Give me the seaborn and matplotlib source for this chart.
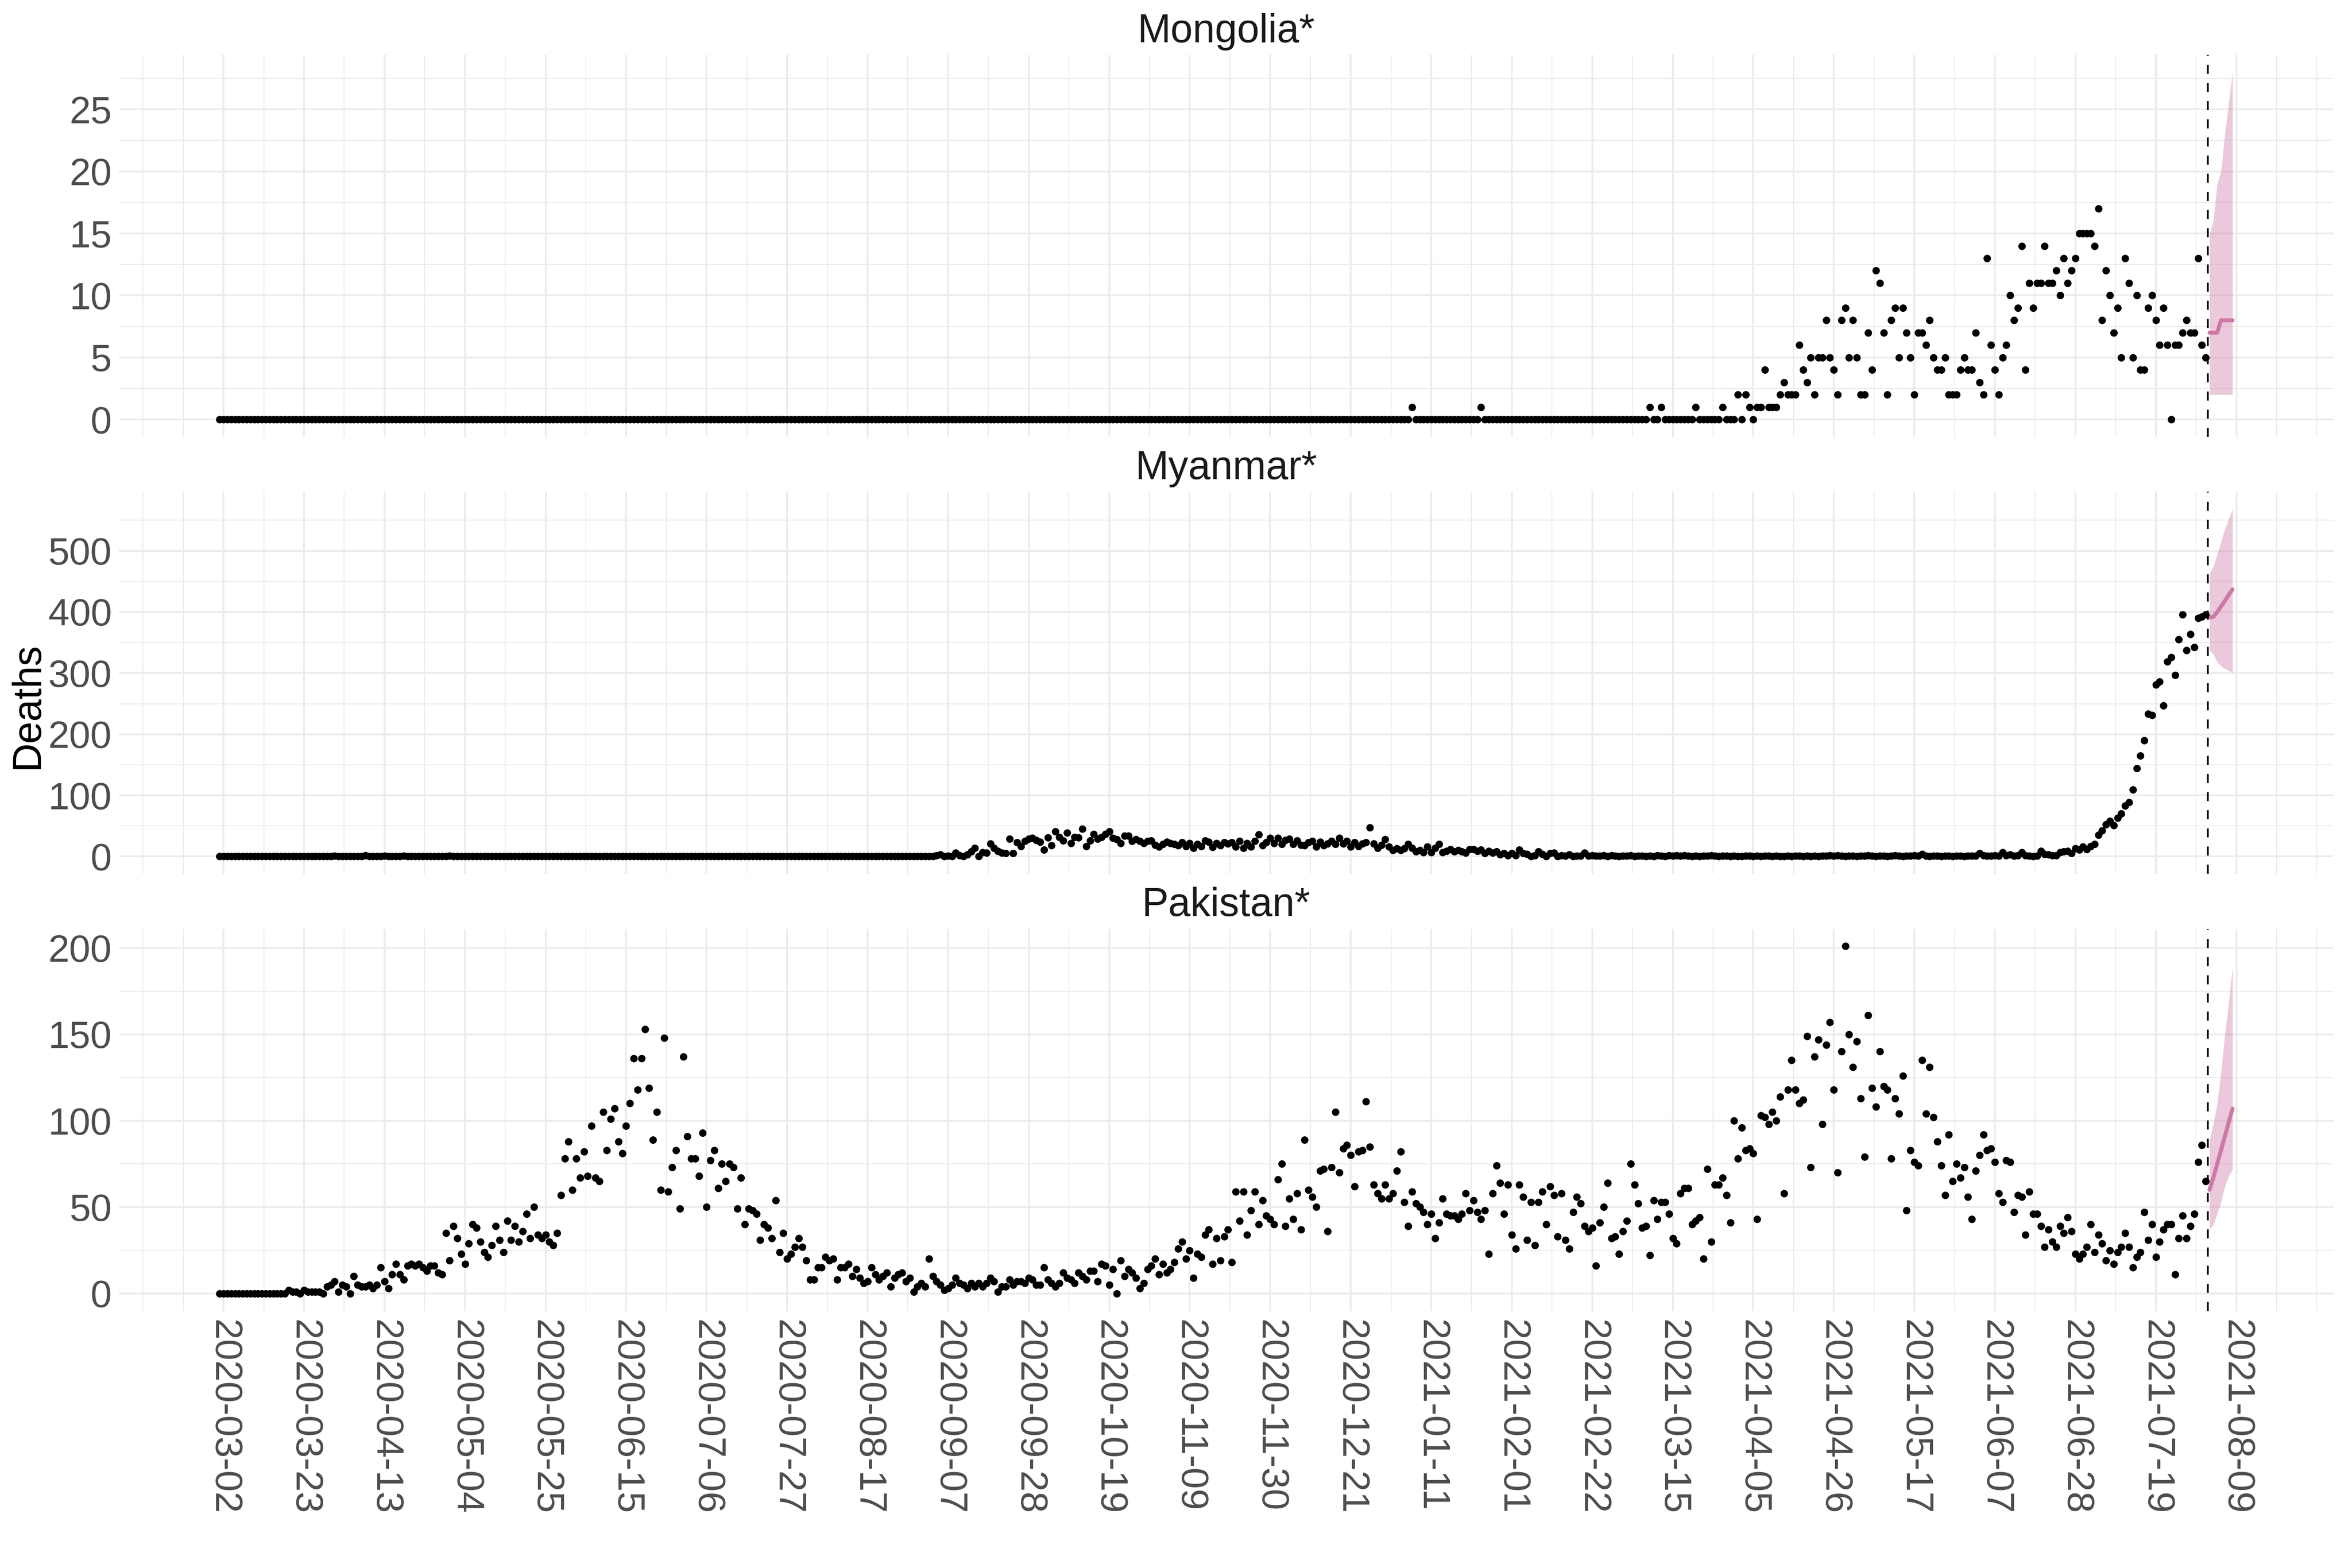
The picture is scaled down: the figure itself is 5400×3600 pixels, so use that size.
import numpy as np
import pandas as pd
import matplotlib
matplotlib.use("Agg")
import matplotlib.pyplot as plt
from matplotlib.ticker import MultipleLocator
import seaborn as sns

# observed daily deaths, 2020-03-01 .. 2021-08-01
first_day = "2020-03-01"
last_day = "2021-08-01"

mongolia = [
    0, 0, 0, 0, 0, 0, 0, 0, 0, 0, 0, 0, 0, 0, 0, 0, 0, 0, 0, 0, 0, 0, 0, 0, 0, 0, 0, 0, 0, 0,
    0, 0, 0, 0, 0, 0, 0, 0, 0, 0, 0, 0, 0, 0, 0, 0, 0, 0, 0, 0, 0, 0, 0, 0, 0, 0, 0, 0, 0, 0,
    0, 0, 0, 0, 0, 0, 0, 0, 0, 0, 0, 0, 0, 0, 0, 0, 0, 0, 0, 0, 0, 0, 0, 0, 0, 0, 0, 0, 0, 0,
    0, 0, 0, 0, 0, 0, 0, 0, 0, 0, 0, 0, 0, 0, 0, 0, 0, 0, 0, 0, 0, 0, 0, 0, 0, 0, 0, 0, 0, 0,
    0, 0, 0, 0, 0, 0, 0, 0, 0, 0, 0, 0, 0, 0, 0, 0, 0, 0, 0, 0, 0, 0, 0, 0, 0, 0, 0, 0, 0, 0,
    0, 0, 0, 0, 0, 0, 0, 0, 0, 0, 0, 0, 0, 0, 0, 0, 0, 0, 0, 0, 0, 0, 0, 0, 0, 0, 0, 0, 0, 0,
    0, 0, 0, 0, 0, 0, 0, 0, 0, 0, 0, 0, 0, 0, 0, 0, 0, 0, 0, 0, 0, 0, 0, 0, 0, 0, 0, 0, 0, 0,
    0, 0, 0, 0, 0, 0, 0, 0, 0, 0, 0, 0, 0, 0, 0, 0, 0, 0, 0, 0, 0, 0, 0, 0, 0, 0, 0, 0, 0, 0,
    0, 0, 0, 0, 0, 0, 0, 0, 0, 0, 0, 0, 0, 0, 0, 0, 0, 0, 0, 0, 0, 0, 0, 0, 0, 0, 0, 0, 0, 0,
    0, 0, 0, 0, 0, 0, 0, 0, 0, 0, 0, 0, 0, 0, 0, 0, 0, 0, 0, 0, 0, 0, 0, 0, 0, 0, 0, 0, 0, 0,
    0, 0, 0, 0, 0, 0, 0, 0, 0, 0, 0,
    1,
    0, 0, 0, 0, 0, 0, 0, 0, 0, 0, 0, 0, 0, 0, 0, 0, 0,
    1,
    0, 0, 0, 0, 0, 0, 0, 0, 0, 0, 0, 0, 0, 0, 0, 0, 0, 0, 0, 0, 0, 0, 0, 0, 0, 0, 0, 0, 0, 0,
    0, 0, 0, 0, 0, 0, 0, 0, 0, 0, 0, 0, 0,
    1, 0, 0, 1, 0, 0, 0, 0, 0, 0,
    0, 0, 1, 0, 0, 0, 0, 0, 0, 1,
    0, 0, 0, 2, 0, 2, 1, 0, 1, 1,
    4, 1, 1, 1, 2, 3, 2, 2, 2, 6,
    4, 3, 5, 2, 5, 5, 8, 5, 4, 2,
    8, 9, 5, 8, 5, 2, 2, 7, 4, 12,
    11, 7, 2, 8, 9, 5, 9, 7, 5, 2,
    7, 7, 6, 8, 5, 4, 4, 5, 2, 2,
    2, 4, 5, 4, 4, 7, 3, 2, 13, 6,
    4, 2, 5, 6, 10, 8, 9, 14, 4, 11,
    9, 11, 11, 14, 11, 11, 12, 10, 13, 11,
    12, 13, 15, 15, 15, 15, 14, 17, 8, 12,
    10, 7, 9, 5, 13, 11, 5, 10, 4, 4,
    9, 10, 8, 6, 9, 6, 0, 6, 6, 7,
    8, 7, 7, 13, 6, 5,
]

myanmar = [
    0, 0, 0, 0, 0, 0, 0, 0, 0, 0,
    0, 0, 0, 0, 0, 0, 0, 0, 0, 0,
    0, 0, 0, 0, 0, 0, 0, 0, 0, 0,
    1, 0, 0, 0, 0, 0, 0, 0, 2, 0,
    0, 0, 0, 1, 0, 0, 0, 0, 1, 0,
    0, 0, 0, 0, 0, 0, 0, 0, 0, 0,
    1, 0, 0, 0, 0, 0, 0, 0, 0, 0,
    0, 0, 0, 0, 0, 0, 0, 0, 0, 0, 0, 0, 0, 0, 0, 0, 0, 0, 0, 0,
    0, 0, 0, 0, 0, 0, 0, 0, 0, 0, 0, 0, 0, 0, 0, 0, 0, 0, 0, 0,
    0, 0, 0, 0, 0, 0, 0, 0, 0, 0, 0, 0, 0, 0, 0, 0, 0, 0, 0, 0,
    0, 0, 0, 0, 0, 0, 0, 0, 0, 0, 0, 0, 0, 0, 0, 0, 0, 0, 0, 0,
    0, 0, 0, 0, 0, 0, 0, 0, 0, 0, 0, 0, 0, 0, 0, 0, 0, 0, 0, 0,
    0, 0, 0, 0, 0, 0, 0, 0, 0, 0,
    0, 0, 0, 0, 0, 0, 0,
    2, 3, 0, 1, 0, 6, 2, 0, 3, 8,
    14, 0, 7, 6, 21, 14, 9, 6, 5, 29,
    5, 23, 17, 25, 29, 30, 27, 24, 11, 31,
    18, 41, 32, 26, 39, 22, 32, 31, 45, 17,
    26, 37, 29, 32, 37, 41, 30, 28, 22, 34,
    34, 25, 28, 25, 22, 25, 26, 19, 16, 20,
    24, 22, 20, 18, 23, 17, 22, 14, 20, 17,
    26, 24, 15, 22, 18, 23, 21, 23, 16, 25,
    14, 22, 16, 25, 36, 18, 23, 30, 22, 30,
    20, 27, 29, 20, 26, 19, 18, 23, 25, 16,
    24, 18, 21, 25, 20, 30, 21, 25, 16, 23,
    17, 21, 23, 47, 21, 14, 19, 28, 16, 10,
    13, 10, 13, 20, 14, 8, 10, 7, 16, 7,
    14, 20, 7, 9, 12, 8, 10, 8, 6, 12,
    12, 9, 11, 5, 9, 6, 8, 3, 5, 2,
    5, 2, 11, 5,
    4, 0, 2, 8, 4, 0, 5, 6, 0, 2,
    1, 3, 0, 1, 1, 6, 1, 2, 1, 1,
    2, 0, 2, 1, 0, 1, 1, 2, 0, 1,
    1, 0, 1, 0, 2, 1, 0, 2, 1, 2,
    1, 2, 1, 0, 1, 0, 1, 1, 2, 1,
    0, 1, 1, 0, 1, 0, 0, 1, 1, 0,
    1, 0, 1, 1, 0, 1, 0, 0, 1, 0,
    1, 1, 0, 1, 0, 1, 0, 1, 1, 2,
    1, 2, 1, 0, 1, 1, 0, 1, 1, 2,
    1, 0, 1, 1, 0, 1, 2, 1, 0, 1,
    1, 2, 1, 4, 1, 0, 1, 1, 0, 1,
    1, 0, 1, 1, 0, 1, 1, 1, 5, 2,
    1, 1, 2, 1, 7, 2, 3, 1, 2, 7,
    2, 1, 0, 1,
    9, 4, 3, 2, 2, 7, 8, 9, 5, 13,
    11, 16, 12, 17, 20, 35, 42, 52, 58, 51,
    63, 70, 83, 89, 109, 144, 165, 190, 233, 231,
    281, 286, 247, 319, 326, 297, 355, 396, 337, 364,
    342, 390, 392, 396,
]

pakistan = [
    0, 0, 0, 0, 0, 0, 0, 0, 0, 0,
    0, 0, 0, 0, 0, 0, 0, 0, 2, 1,
    1, 0, 2, 1, 1, 1, 1, 0, 4, 5,
    7, 1, 5, 4, 0, 10, 5, 4, 4, 5,
    3, 5, 15, 7, 3, 11, 17, 11, 8, 16,
    17, 16, 17, 15, 13, 16, 16, 12, 11, 35,
    19, 39, 32, 23, 17, 29, 40, 38, 30, 24,
    21, 28, 39, 31, 24, 42, 31, 39, 30, 36,
    46, 32, 50, 34, 32, 34, 30, 28, 35, 57,
    78, 88, 60, 78, 67, 82, 68, 97, 67, 65,
    105, 83, 101, 107, 88, 81, 97, 110, 136, 118,
    136, 153, 119, 89, 105, 60, 148, 59, 73, 83,
    49, 137, 91, 78, 78, 68, 93, 50, 77, 83,
    61, 75, 65, 75, 73, 49, 67, 40, 49, 48,
    46, 31, 40, 38, 32, 54, 24, 35, 20, 23,
    27, 32, 27, 19, 8, 8, 15, 15, 21, 19,
    20, 8, 15, 15, 17, 10, 14, 9, 6, 7,
    15, 11, 8, 10, 12, 4, 9, 11, 12, 7,
    9, 1, 4, 6, 4, 20, 10, 7, 5, 2,
    3, 5, 9, 6, 5, 3, 6, 4, 6, 4,
    6, 9, 7, 1, 4, 4, 8, 5, 7, 7,
    6, 9, 8, 5, 5, 15, 8, 6, 4, 6,
    12, 9, 8, 6, 12, 10, 8, 13, 13, 7,
    17, 16, 5, 14, 0, 19, 10, 14, 12, 9,
    3, 6, 14, 16, 20, 11, 17, 12, 14, 18,
    26, 30, 20, 25, 9, 23, 21, 34, 37, 17,
    32, 19, 33, 37, 18, 59, 42, 59, 34, 48,
    59, 40, 54, 45, 43, 40, 66, 75, 39, 55,
    43, 58, 37, 89, 60, 56, 50, 71, 72, 36,
    73, 105, 70, 84, 86, 80, 62, 82, 83, 111,
    85, 63, 58, 55, 63, 55, 58, 71, 82, 53,
    39, 59, 52, 50, 47, 40, 46, 32, 41, 55,
    46, 45, 45, 43, 46, 58, 48, 54, 47, 43,
    48, 23, 58, 74, 64, 46, 63, 34, 26, 63,
    56, 31, 53, 28, 53, 59, 40, 62, 57, 33,
    58, 31, 26, 47, 56, 52, 39, 36, 38, 16,
    41, 50, 64, 32, 33, 23, 36, 42, 75, 63,
    52, 38, 39, 22, 54, 43, 53, 53, 46, 32,
    29, 58, 61, 61, 40, 42, 44, 20, 72, 30,
    63, 63, 67, 57, 41, 100, 78, 96, 83, 84,
    81, 43, 103, 102, 98, 105, 100, 114, 58, 118,
    135, 118, 110, 112, 149, 73, 137, 147, 98, 144,
    157, 118, 70, 140, 201, 150, 131, 146, 113, 79,
    161, 119, 108, 140, 120, 118, 78, 113, 104, 126,
    48, 83, 76, 74, 135, 104, 131, 102, 88, 74,
    57, 92, 65, 75, 67, 73, 56, 43, 71, 80,
    92, 83, 84, 76, 58, 53, 77, 76, 47, 57,
    56, 34, 59, 46, 46, 39, 27, 37, 30, 27,
    39, 35, 44, 36, 23, 20, 23, 27, 40, 24,
    34, 29, 19, 25, 17, 24, 27, 35, 27, 15,
    21, 24, 47, 31, 40, 21, 30, 37, 40, 40,
    11, 32, 45, 32, 39, 46, 76, 86, 65,
]

# 7 day forecast, 2021-08-02 .. 2021-08-08
fc_first_day = "2021-08-02"
mongolia_fc = [7, 7, 7, 8, 8, 8, 8]
mongolia_lo = [2, 2, 2, 2, 2, 2, 2]
mongolia_hi = [15, 16, 19, 20, 23, 25.5, 28]
myanmar_fc = [391, 392, 400, 409, 418, 428, 437]
myanmar_lo = [337, 331, 318, 312, 307, 304, 300]
myanmar_hi = [462, 475, 494, 515, 535, 552, 568]
pakistan_fc = [60, 67, 75, 83, 91, 99, 107]
pakistan_lo = [37, 40, 46, 53, 62, 68, 72]
pakistan_hi = [89, 98, 110, 128, 150, 168, 189]

panels = [
    ("Mongolia*", mongolia, mongolia_fc, mongolia_lo, mongolia_hi, 5),
    ("Myanmar*", myanmar, myanmar_fc, myanmar_lo, myanmar_hi, 100),
    ("Pakistan*", pakistan, pakistan_fc, pakistan_lo, pakistan_hi, 50),
]

tick_first = "2020-03-02"
tick_last = "2021-08-09"

sns.set_theme(style="white")
plt.rcParams["font.family"] = ["Liberation Sans", "DejaVu Sans"]

grid_col = "#EBEBEB"
fc_col = "#CC79A7"
txt_col = "#4D4D4D"

dates = pd.date_range(first_day, last_day, freq="D")
fc_dates = pd.date_range(fc_first_day, periods=7, freq="D")
cutoff = dates[-1] + pd.Timedelta(hours=12)

major_ticks = pd.date_range(tick_first, tick_last, freq="21D")
minor_ticks = pd.date_range(major_ticks[0] - pd.Timedelta(days=21),
                            major_ticks[-1] + pd.Timedelta(days=21),
                            freq="252h")

x_lo, x_hi = dates[0], fc_dates[-1]
x_pad = (x_hi - x_lo) * 0.05

fig, axes = plt.subplots(3, 1, figsize=(18, 12), dpi=300, sharex=True)
fig.subplots_adjust(left=0.0506, right=0.992, top=0.965, bottom=0.164, hspace=0.144)

for ax, (name, obs, fc, lo, hi, step) in zip(axes, panels):
    obs_df = pd.DataFrame({"date": dates, "deaths": obs})
    fc_df = pd.DataFrame({"date": fc_dates, "mean": fc, "lo": lo, "hi": hi})

    ax.fill_between(fc_df["date"], fc_df["lo"], fc_df["hi"],
                    color=fc_col, alpha=0.4, linewidth=0, zorder=2)
    sns.lineplot(data=fc_df, x="date", y="mean", ax=ax, color=fc_col,
                 linewidth=2.2, zorder=3)
    sns.scatterplot(data=obs_df, x="date", y="deaths", ax=ax, color="black",
                    s=17, linewidth=0, zorder=4)
    ax.axvline(cutoff, color="black", linewidth=1.0, linestyle=(0, (5, 5)), zorder=5)

    y_top = max(max(obs), max(hi))
    ax.set_ylim(-0.05 * y_top, 1.05 * y_top)
    ax.set_xlim(x_lo - x_pad, x_hi + x_pad)

    ax.yaxis.set_major_locator(MultipleLocator(step))
    ax.yaxis.set_minor_locator(MultipleLocator(step / 2))
    ax.set_xticks(major_ticks)
    ax.set_xticks(minor_ticks, minor=True)

    ax.grid(which="major", color=grid_col, linewidth=1.0)
    ax.grid(which="minor", color=grid_col, linewidth=0.5)
    ax.set_axisbelow(True)
    for s in ax.spines.values():
        s.set_visible(False)
    ax.tick_params(which="both", length=0)
    ax.tick_params(axis="y", labelsize=21, labelcolor=txt_col, pad=4)
    ax.set_xlabel("")
    ax.set_ylabel("")
    ax.set_title(name, fontsize=22, color="#1A1A1A", pad=7)

axes[-1].set_xticklabels([d.strftime("%Y-%m-%d") for d in major_ticks],
                         rotation=-90, fontsize=21, color=txt_col)
axes[-1].tick_params(axis="x", pad=5)

fig.text(0.0118, 0.55, "Deaths", rotation=90, fontsize=22, color="black",
         ha="center", va="center")

fig.savefig("out.png", dpi=300, facecolor="white")
